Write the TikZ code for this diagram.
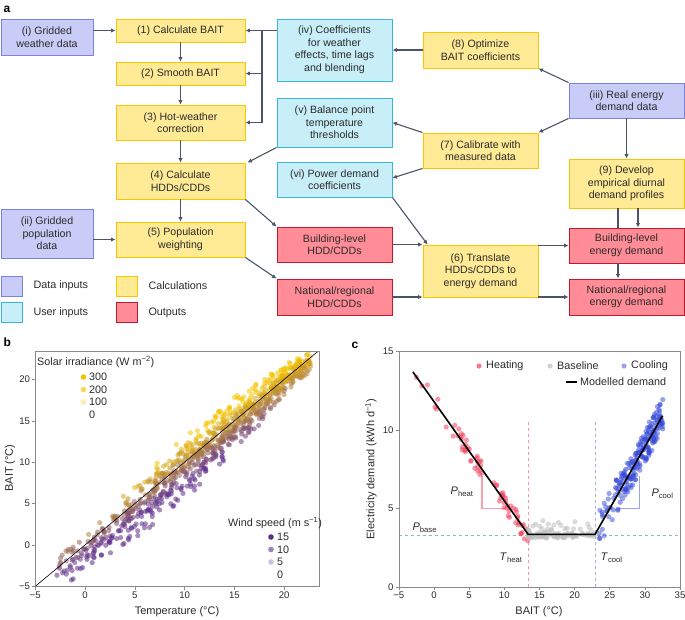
\documentclass[tikz,border=0pt]{standalone}
\usepackage{fontspec}
\setmainfont{Liberation Sans}
\usetikzlibrary{positioning, calc, arrows.meta}

\definecolor{datafill}{HTML}{C9CCF6}
\definecolor{datadraw}{HTML}{7A83E2}
\definecolor{userfill}{HTML}{C8EEF8}
\definecolor{userdraw}{HTML}{38B6DE}
\definecolor{calcfill}{HTML}{FFEA96}
\definecolor{calcdraw}{HTML}{F7C600}
\definecolor{outfill}{HTML}{FF8C96}
\definecolor{outdraw}{HTML}{C1182F}
\definecolor{flowcol}{HTML}{4B5567}
\definecolor{txt}{HTML}{2B2B2B}
\definecolor{framecol}{HTML}{8A8A8A}
\definecolor{sunny}{HTML}{F5C400}
\definecolor{windy}{HTML}{5E2D8C}
\definecolor{heatcol}{HTML}{F2405E}
\definecolor{basecol}{HTML}{BDBDBD}
\definecolor{coolcol}{HTML}{3347D6}
\definecolor{basedash}{HTML}{7FC79A}

\tikzset{
	box/.style={draw, line width=0.9pt, align=center, inner sep=1pt, text=txt,
		font=\fontsize{10.6}{12.5}\selectfont},
	datain/.style={box, fill=datafill, draw=datadraw},
	userin/.style={box, fill=userfill, draw=userdraw},
	calcbox/.style={box, fill=calcfill, draw=calcdraw},
	outbox/.style={box, fill=outfill, draw=outdraw},
	flow/.style={draw=flowcol, line width=1.1pt, -{Latex[length=4.5pt,width=4.5pt]}},
	bus/.style={draw=flowcol, line width=1.1pt},
	swatch/.style={line width=0.9pt, minimum width=21pt, minimum height=20pt, inner sep=0pt},
	legtext/.style={anchor=west, text=txt, font=\fontsize{10.8}{12}\selectfont},
	panel/.style={anchor=west, font=\bfseries\fontsize{12}{12}\selectfont},
	tick/.style={text=txt, font=\fontsize{9.6}{10}\selectfont, inner sep=1pt},
	axlabel/.style={text=txt, font=\fontsize{11}{12}\selectfont},
	frame/.style={draw=framecol, line width=0.6pt},
	dot/.style={radius=2.6pt},
}

\begin{document}
\begin{tikzpicture}[x=1pt, y=-1pt]
	\useasboundingbox (0,0) rectangle (685,619);

	% panel a
	\node[panel] (la) at (0,9) {a};
	\node[datain, minimum width=92pt, minimum height=36pt] (gw) at (47,37) {(i) Gridded\\weather data};
	\node[datain, minimum width=92pt, minimum height=49pt] (gp) at (47,233.5) {(ii) Gridded\\population\\data};
	\node[calcbox, minimum width=129pt, minimum height=23pt] (c1) at (180.5,30.5) {(1) Calculate BAIT};
	\node[calcbox, minimum width=129pt, minimum height=23pt] (c2) at (180.5,73.5) {(2) Smooth BAIT};
	\node[calcbox, minimum width=129pt, minimum height=35pt] (c3) at (180.5,122.5) {(3) Hot-weather\\correction};
	\node[calcbox, minimum width=129pt, minimum height=36pt] (c4) at (180.5,181) {(4) Calculate\\HDDs/CDDs};
	\node[calcbox, minimum width=129pt, minimum height=35pt] (c5) at (180.5,239.5) {(5) Population\\weighting};
	\node[userin, minimum width=115pt, minimum height=62pt] (coef) at (334.5,50) {(iv) Coefficients\\for weather\\effects, time lags\\and blending};
	\node[userin, minimum width=115pt, minimum height=49pt] (bal) at (334.5,122.5) {(v) Balance point\\temperature\\thresholds};
	\node[userin, minimum width=115pt, minimum height=35pt] (pow) at (334.5,179.5) {(vi) Power demand\\coefficients};
	\node[outbox, minimum width=115pt, minimum height=35pt] (bhdd) at (334.5,244.5) {Building-level\\HDD/CDDs};
	\node[outbox, minimum width=115pt, minimum height=36pt] (nhdd) at (334.5,297) {National/regional\\HDD/CDDs};
	\node[calcbox, minimum width=115pt, minimum height=36pt] (opt) at (480.5,50) {(8) Optimize\\BAIT coefficients};
	\node[calcbox, minimum width=115pt, minimum height=35pt] (cal) at (480.5,150.5) {(7) Calibrate with\\measured data};
	\node[calcbox, minimum width=115pt, minimum height=52pt] (tr) at (480.5,271) {(6) Translate\\HDDs/CDDs to\\energy demand};
	\node[datain, minimum width=115pt, minimum height=35pt] (real) at (626.5,100.5) {(iii) Real energy\\demand data};
	\node[calcbox, minimum width=115pt, minimum height=49pt] (dev) at (626.5,183.5) {(9) Develop\\empirical diurnal\\demand profiles};
	\node[outbox, minimum width=115pt, minimum height=35pt] (bed) at (626.5,245.5) {Building-level\\energy demand};
	\node[outbox, minimum width=115pt, minimum height=36pt] (ned) at (626.5,297) {National/regional\\energy demand};

	% legend
	\node[swatch, draw=datadraw, fill=datafill] (kd) at (11.5,286) {};
	\node[swatch, draw=userdraw, fill=userfill] (ku) at (11.5,312.5) {};
	\node[swatch, draw=calcdraw, fill=calcfill] (kc) at (126.5,286) {};
	\node[swatch, draw=outdraw, fill=outfill] (ko) at (126.5,312.5) {};
	\node[legtext] (tkd) at (30,286) {Data inputs};
	\node[legtext] (tku) at (30,312.5) {User inputs};
	\node[legtext] (tkc) at (145,286) {Calculations};
	\node[legtext] (tko) at (145,312.5) {Outputs};

	% connectors
	\coordinate (b1) at (262,0);
	\draw[flow] (gw.east |- c1) -- (c1.west);
	\draw[flow] (c1) -- (c2);
	\draw[flow] (c2) -- (c3);
	\draw[flow] (c3) -- (c4);
	\draw[flow] (c4) -- (c5);
	\draw[flow] (gp.east |- c5) -- (c5.west);
	\draw[flow] (coef.west |- c1) -- (c1.east);
	\draw[bus] (b1 |- c1) -- (b1 |- c3);
	\draw[flow] (b1 |- c2) -- (c2.east);
	\draw[flow] (b1 |- c3) -- (c3.east);
	\draw[flow] (bal.south west) -- ([xshift=2pt]c4.north east);
	\draw[flow] (c4.south east) -- (bhdd.north west);
	\draw[flow] (c5.south east) -- (nhdd.north west);
	\draw[flow] (opt.west) -- (coef.east);
	\draw[flow] (real.north west) -- (opt.south east);
	\draw[flow] (real.south west) -- (cal.north east);
	\draw[flow] (cal.north west) -- (bal.east);
	\draw[flow] (cal.south west) -- ([yshift=1.5pt]pow.east);
	\draw[flow] (pow.south east) -- ([xshift=5pt]tr.north west);
	\draw[flow] (bhdd.east) -- (bhdd.east -| tr.west);
	\draw[flow] (nhdd.east) -- (nhdd.east -| tr.west);
	\draw[flow] (tr.east |- bed) -- (bed.west);
	\draw[flow] (tr.east |- ned) -- (ned.west);
	\draw[flow] (real) -- (dev);
	\draw[bus] ([xshift=-8.5pt]dev.south) -- ([xshift=-8.5pt]bed.north);
	\draw[flow] ([xshift=11.5pt]dev.south) -- ([xshift=11.5pt]bed.north);
	\draw[flow] ([xshift=-8.5pt]bed.south) -- ([xshift=-8.5pt]ned.north);

	% panel b
	\node[panel] (lb) at (0,342) {b};
	\begin{scope}[shift={(85pt,-545pt)}, x=9.96pt, y=8.28pt]
		\begin{scope}
			\clip (-5,-5) rectangle (23.5,23.4);
			\pgfmathsetseed{7}
			\foreach \i in {1,...,900}{
				\pgfmathsetmacro\ptT{-3.3+26*pow(rnd,0.65)}
				\pgfmathsetmacro\ptS{rnd}
				\pgfmathsetmacro\ptW{rnd}
				\pgfmathsetmacro\ptA{max(1.2,3.2-0.015*(\ptT-10)^2)}
				\pgfmathsetmacro\ptB{max(1.8,4.6-0.018*(\ptT-8)^2)}
				\pgfmathsetmacro\ptO{\ptA*\ptS-\ptB*\ptW}
				\pgfmathsetmacro\ptY{\ptT+\ptO+0.5*rand}
				\pgfmathtruncatemacro\pp{max(0,min(100,50+22*\ptO+2.5*(\ptT-8)))}
				\fill[sunny!\pp!windy, opacity=0.55] (\ptT,\ptY) circle[dot];
			}
			\draw[black, line width=0.6pt] (-5,-5) -- (23.4,23.4);
		\end{scope}
		\draw[frame] (-5,-5) rectangle (23.5,23.4);
		\foreach \v/\s in {-5/−5, 0/0, 5/5, 10/10, 15/15, 20/20}{
			\draw[frame] (\v,-5) -- ++(0,-0.4);
			\node[tick, below] at (\v,-5.5) {\s};
			\draw[frame] (-5,\v) -- ++(-0.3,0);
			\node[tick, left] at (-5.4,\v) {\s};
		}
	\end{scope}
	\node[axlabel] (xb) at (177,612) {Temperature (°C)};
	\node[axlabel, rotate=90] (yb) at (10,468) {BAIT (°C)};
	\node[legtext, inner sep=0pt] (sol) at (37,362) {Solar irradiance (W m\textsuperscript{−2})};
	\foreach \c/\l/\y in {sunny/300/377, sunny!65!white/200/389.5, sunny!30!white/100/402, white/0/414.5}{
		\fill[\c] (83.5,\y) circle[radius=2.8pt];
		\node[legtext, inner sep=0pt] at (89,\y) {\l};
	}
	\node[legtext, inner sep=0pt] (wind) at (228,523) {Wind speed (m s\textsuperscript{−1})};
	\foreach \c/\l/\y in {windy/15/537, windy!60!white/10/549.5, windy!30!white/5/562, white/0/574.5}{
		\fill[\c] (271,\y) circle[radius=2.8pt];
		\node[legtext, inner sep=0pt] at (277,\y) {\l};
	}

	% panel c
	\node[panel] (lc) at (348,345) {c};
	\begin{scope}[shift={(434pt,-587pt)}, x=7.03pt, y=15.7pt]
		\draw[basedash, dashed, line width=0.6pt] (-5,3.3) -- (35,3.3);
		\draw[heatcol!55, dashed, line width=0.6pt] (13.4,0) -- (13.4,10.5);
		\draw[coolcol!45, dashed, line width=0.6pt] (22.9,0) -- (22.9,10.5);
		\draw[heatcol!50, line width=1.4pt] (6.8,7.1) -- (6.8,5) -- (10.2,5);
		\draw[coolcol!50, line width=1.4pt] (26.2,5) -- (29.2,5) -- (29.2,7.1);
		\pgfmathsetseed{11}
		\foreach \i in {1,...,75}{
			\pgfmathsetmacro\ptX{-3+16.6*pow(rnd,0.5)}
			\pgfmathsetmacro\ptY{13.7-0.634*(\ptX+3)+0.6*rand}
			\fill[heatcol, opacity=0.55] (\ptX,\ptY) circle[dot];
		}
		\foreach \i in {1,...,110}{
			\pgfmathsetmacro\ptX{13.4+9.6*pow(rnd,1.4)}
			\pgfmathsetmacro\ptY{3.12+0.3*rnd+0.9*pow(rnd,5)}
			\fill[basecol, opacity=0.55] (\ptX,\ptY) circle[dot];
		}
		\foreach \i in {1,...,210}{
			\pgfmathsetmacro\ptX{22.9+9.7*pow(rnd,0.6)}
			\pgfmathsetmacro\ptY{max(3.1,3.3+0.8*(\ptX-22.9)+1.1*rand)}
			\fill[coolcol, opacity=0.5] (\ptX,\ptY) circle[dot];
		}
		\draw[black, line width=1.6pt] (-3,13.7) -- (13.4,3.35) -- (22.9,3.35) -- (32.5,10.9);
		\draw[frame] (-5,0) rectangle (35,15);
		\foreach \v/\s in {-5/−5, 0/0, 5/5, 10/10, 15/15, 20/20, 25/25, 30/30, 35/35}{
			\draw[frame] (\v,0) -- ++(0,-0.2);
			\node[tick, below] at (\v,-0.25) {\s};
		}
		\foreach \v in {0,5,10,15}{
			\draw[frame] (-5,\v) -- ++(-0.4,0);
			\node[tick, left] at (-5.6,\v) {\v};
		}
		\node[axlabel] (ph) at (4.0,6.05) {\textit{P}\textsubscript{heat}};
		\node[axlabel] (pc) at (32.5,5.95) {\textit{P}\textsubscript{cool}};
		\node[axlabel] (pb) at (-1.3,3.8) {\textit{P}\textsubscript{base}};
		\node[axlabel, anchor=east] (th) at (13.1,1.85) {\textit{T}\textsubscript{heat}};
		\node[axlabel, anchor=west] (tc) at (23.2,1.85) {\textit{T}\textsubscript{cool}};
	\end{scope}
	\node[axlabel] (xc) at (539,612) {BAIT (°C)};
	\node[axlabel, rotate=90] (yc) at (371,469) {Electricity demand (kWh d\textsuperscript{−1})};
	\fill[heatcol!70] (479,366) circle[radius=2.6pt];
	\fill[basecol!70] (550,366) circle[radius=2.6pt];
	\fill[coolcol!50] (624,366) circle[radius=2.6pt];
	\node[legtext, inner sep=0pt] (lh) at (486,366) {Heating};
	\node[legtext, inner sep=0pt] (lbl) at (557,366) {Baseline};
	\node[legtext, inner sep=0pt] (lco) at (631,366) {Cooling};
	\coordinate (md) at (566,382);
	\draw[black, line width=1.6pt] (md) -- ++(11,0);
	\node[legtext, inner sep=0pt] (lmd) at (580,382) {Modelled demand};
\end{tikzpicture}
\end{document}
